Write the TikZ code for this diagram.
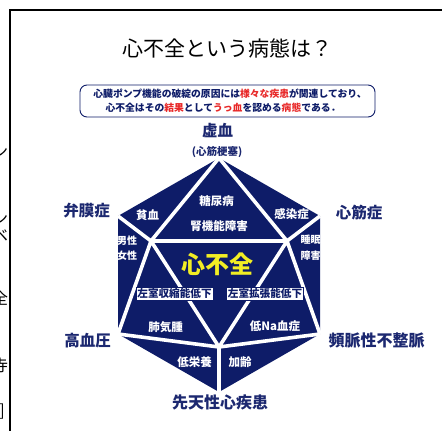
\documentclass[tikz,border=0pt]{standalone}
\usepackage{fontspec}
\setmainfont{Noto Sans CJK JP}
\definecolor{navy}{RGB}{14,28,104}
\definecolor{lnavy}{RGB}{28,40,112}
\definecolor{redw}{RGB}{232,40,40}
\definecolor{yel}{RGB}{242,238,36}
\begin{document}
\begin{tikzpicture}[x=1pt,y=-1pt,
  wl/.style={white, line width=3.6pt},
  inl/.style={text=white, font=\bfseries\fontsize{11.5}{12}\selectfont, inner sep=0pt},
  insm/.style={text=white, font=\bfseries\fontsize{10}{11}\selectfont, inner sep=0pt},
  outl/.style={text=lnavy, font=\bfseries\fontsize{15.5}{16}\selectfont, inner sep=0pt},
  lvbox/.style={draw=navy, fill=white, line width=0.6pt, text=navy, font=\bfseries\fontsize{10.6}{11}\selectfont, inner xsep=1.5pt, inner ysep=1.5pt},
  sub/.style={text=navy, font=\bfseries\fontsize{9.8}{10}\selectfont, inner sep=0pt},
  frag/.style={text=black, font=\fontsize{16}{16}\selectfont, inner sep=0pt}]
\useasboundingbox (0,0) rectangle (442,431);
\fill[white] (0,0) rectangle (442,431);
% frame
\draw[black, line width=2pt] (10,431) -- (10,10) -- (442,10);
% clipped fragments at left edge
\begin{scope}
\clip (0,0) rectangle (8.5,431);
\node[frag] (f1) at (0,152) {ン};
\node[frag] (f2) at (0,219) {ン};
\node[frag] (f3) at (0,236) {ベ};
\node[frag] (f4) at (0,298) {全};
\node[frag] (f5) at (0,365) {寺};
\node[frag] (f6) at (2,412) {]};
\end{scope}
% title
\node[font=\fontsize{21}{22}\selectfont, inner sep=0pt] (title) at (227,48) {心不全という病態は？};
% subtitle box
\node[draw=navy, rounded corners=7pt, line width=0.9pt, minimum width=295pt, minimum height=32pt, inner sep=0pt] (box) at (227.5,101) {};
\node[sub] (s1) at (230,94) {心臓ポンプ機能の破綻の原因には\textcolor{redw}{様々な疾患}が関連しており、};
\node[sub] (s2) at (223,108) {心不全はその\textcolor{redw}{結果}として\textcolor{redw}{うっ血}を認める\textcolor{redw}{病態}である．};
% hexagon
\coordinate (T) at (219,158);
\coordinate (UR) at (320,216);
\coordinate (LR) at (320,334);
\coordinate (B) at (219,392);
\coordinate (LL) at (118,334);
\coordinate (UL) at (118,216);
\coordinate (J1) at (151,241);
\coordinate (J2) at (287,241);
\coordinate (J5) at (219,347);
\fill[navy] (T) -- (UR) -- (LR) -- (B) -- (LL) -- (UL) -- cycle;
\draw[wl] (T) -- (J1) (T) -- (J2) (UL) -- (J1) (UR) -- (J2) (J1) -- (J2)
  (J1) -- (LL) (J2) -- (LR) (J1) -- (J5) (J2) -- (J5) (LL) -- (J5) (LR) -- (J5) (J5) -- (B);
% inner labels
\node[inl] (a1) at (147.5,215) {貧血};
\node[inl] (a2) at (216.5,201) {糖尿病};
\node[inl] (a3) at (219,226) {腎機能障害};
\node[inl] (a4) at (291.5,214) {感染症};
\node[insm] (a5) at (127,241) {男性};
\node[insm] (a6) at (127,256) {女性};
\node[insm] (a7) at (310.5,240) {睡眠};
\node[insm] (a8) at (310.5,256) {障害};
\node[text=yel, font=\bfseries\fontsize{24}{24}\selectfont, inner sep=0pt] (hf) at (217,264) {心不全};
\node[lvbox] (b1) at (174.5,293.5) {左室収縮能低下};
\node[lvbox] (b2) at (265,293.5) {左室拡張能低下};
\node[inl] (a9) at (165.5,327) {肺気腫};
\node[inl] (a10) at (275,326) {低Na血症};
\node[inl] (a11) at (194.5,362) {低栄養};
\node[inl] (a12) at (240,362) {加齢};
% outer labels
\node[outl] (o1) at (217.5,131) {虚血};
\node[text=lnavy, font=\bfseries\fontsize{10.5}{11}\selectfont, inner sep=0pt] (o1b) at (217,152) {(心筋梗塞)};
\node[outl] (o2) at (86.5,211) {弁膜症};
\node[outl] (o3) at (359,213) {心筋症};
\node[outl] (o4) at (87.5,341) {高血圧};
\node[outl, font=\bfseries\fontsize{16}{16}\selectfont] (o5) at (376.5,340) {頻脈性不整脈};
\node[outl, font=\bfseries\fontsize{16}{16}\selectfont] (o6) at (220,402) {先天性心疾患};
\end{tikzpicture}
\end{document}
